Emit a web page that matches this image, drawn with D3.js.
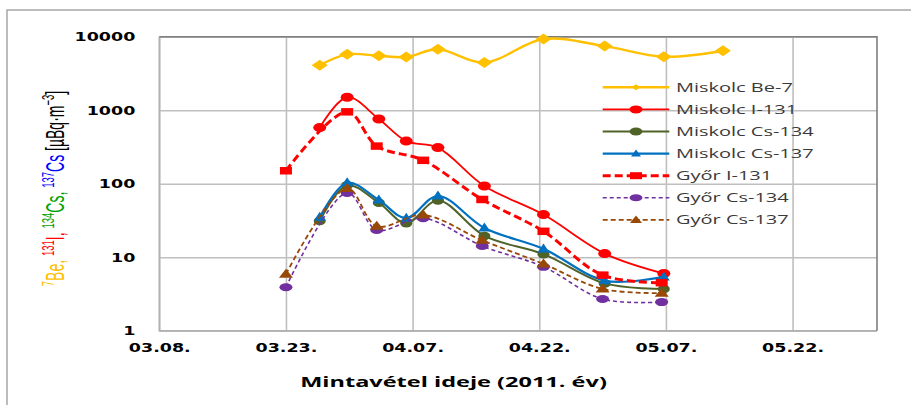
<!DOCTYPE html>
<html>
<head>
<meta charset="utf-8">
<script src="https://cdn.jsdelivr.net/npm/d3@7"></script>
<style>
  body { margin: 0; background: #fff; }
  svg { display: block; }
</style>
</head>
<body>
<svg id="chart" width="911" height="405"></svg>
<script>
// Sampling dates (2011) of the two stations
const miskolcDates = ["2011-03-27T00:00", "2011-03-30T06:00", "2011-04-03T00:00", "2011-04-06T06:00",
  "2011-04-10T00:00", "2011-04-15T12:00", "2011-04-22T12:00", "2011-04-29T18:00",
  "2011-05-06T18:00", "2011-05-13T18:00"];
const gyorDates = ["2011-03-23T00:00", "2011-03-30T06:00", "2011-04-02T18:00", "2011-04-08T06:00",
  "2011-04-15T06:00", "2011-04-22T12:00", "2011-04-29T12:00", "2011-05-06T12:00"];

// Activity concentrations, µBq/m³
const miskolcBe7   = [4100, 5750, 5500, 5300, 6750, 4450, 9300, 7450, 5350, 6450];
const miskolcI131  = [580, 1500, 760, 380, 310, 93, 38, 11.2, 6.0];
const miskolcCs134 = [31, 95, 55, 29, 59, 19.5, 11, 4.4, 3.7];
const miskolcCs137 = [35, 103, 60, 34, 68, 25, 13, 4.8, 5.4];
const gyorI131     = [150, 950, 325, 208, 61, 22.5, 5.7, 4.5];
const gyorCs134    = [3.9, 75, 23.5, 34, 14.2, 7.4, 2.7, 2.45];
const gyorCs137    = [5.9, 86, 26.5, 37.5, 17, 8.1, 3.7, 3.25];

const seriesNames = ["Miskolc Be-7", "Miskolc I-131", "Miskolc Cs-134", "Miskolc Cs-137",
  "Győr I-131", "Győr Cs-134", "Győr Cs-137"];

// Axis ticks
const xTickDates = ["2011-03-08", "2011-03-23", "2011-04-07", "2011-04-22", "2011-05-07", "2011-05-22"];
const xDomain = ["2011-03-08", "2011-06-01"];
const yTicks = [1, 10, 100, 1000, 10000];

const xTitle = "Mintavétel ideje (2011. év)";
// Y title pieces: [superscript, body, colour]
const yTitleParts = [
  ["7", "Be, ", "#FFC000"],
  ["131", "I, ", "#FF0000"],
  ["134", "Cs, ", "#00A000"],
  ["137", "Cs ", "#0000FF"],
  ["", "[µBq·m", "#000"],
  ["−3", "]", "#000"]
];

const parse = d3.isoParse;

// Styles per series
const styles = [
  { color: "#FFC000", width: 2.4, dash: null, marker: "diamond", size: [16, 11], lsize: [9, 6] },
  { color: "#FF0000", width: 1.8, dash: null, marker: "circle", size: [13, 9], lsize: [13, 8] },
  { color: "#4F6228", width: 2.0, dash: null, marker: "circle", size: [12, 8.5], lsize: [13, 8] },
  { color: "#0070C0", width: 2.2, dash: null, marker: "triangle", size: [12, 9], lsize: [10, 7] },
  { color: "#FF0000", width: 3.0, dash: "8,4", marker: "square", size: [12, 7.5], lsize: [12, 7] },
  { color: "#7030A0", width: 1.6, dash: "4,3", marker: "circle", size: [13, 8], lsize: [13, 7] },
  { color: "#984807", width: 1.8, dash: "5,3", marker: "triangle", size: [14, 9], lsize: [12, 7.5] }
];

const seriesData = [
  [miskolcDates, miskolcBe7],
  [miskolcDates, miskolcI131],
  [miskolcDates, miskolcCs134],
  [miskolcDates, miskolcCs137],
  [gyorDates, gyorI131],
  [gyorDates, gyorCs134],
  [gyorDates, gyorCs137]
].map(([dates, vals], i) => ({
  name: seriesNames[i],
  style: styles[i],
  points: vals.map((v, j) => ({ date: parse(dates[j]), value: v }))
}));

const svg = d3.select("#chart");
const plot = { left: 159.3, right: 877, top: 36.7, bottom: 330.7 };

const x = d3.scaleTime().domain(xDomain.map(parse)).range([plot.left, plot.right]);
const y = d3.scaleLog().domain([1, 10000]).range([plot.bottom, plot.top]);

// Outer frame (top and left edges)
svg.append("path")
  .attr("d", "M7,405 L7,10 L911,10")
  .attr("fill", "none").attr("stroke", "#a6a6a6").attr("stroke-width", 1.5);

const tickFont = "'DejaVu Sans', Verdana, sans-serif";
const TICK_STRETCH = 1.4;

// X axis with vertical gridlines
const xAxis = svg.append("g")
  .attr("transform", `translate(0,${plot.bottom})`)
  .call(d3.axisBottom(x)
    .tickValues(xTickDates.map(parse))
    .tickFormat(d3.timeFormat("%m.%d."))
    .tickSize(-(plot.bottom - plot.top))
    .tickSizeOuter(0));
xAxis.select(".domain").remove();
xAxis.selectAll(".tick line").attr("stroke", "#bfbfbf").attr("stroke-width", 1.6);
xAxis.selectAll(".tick text")
  .attr("y", 21).attr("dy", null)
  .attr("transform", `scale(${TICK_STRETCH},1)`)
  .attr("fill", "#000").attr("font-family", tickFont)
  .attr("font-weight", "bold").attr("font-size", 12.5);

// Y axis with horizontal gridlines
const yAxis = svg.append("g")
  .attr("transform", `translate(${plot.left},0)`)
  .call(d3.axisLeft(y)
    .tickValues(yTicks)
    .tickFormat(d3.format("d"))
    .tickSize(-(plot.right - plot.left))
    .tickSizeOuter(0));
yAxis.select(".domain").remove();
yAxis.selectAll(".tick line").attr("stroke", "#bfbfbf").attr("stroke-width", 1.6);
yAxis.selectAll(".tick text")
  .attr("x", -24 / TICK_STRETCH)
  .attr("transform", `scale(${TICK_STRETCH},1)`)
  .attr("fill", "#000").attr("font-family", tickFont)
  .attr("font-weight", "bold").attr("font-size", 12.5);

// Plot area border
svg.append("path")
  .attr("d", `M${plot.left},${plot.top} L${plot.left},${plot.bottom} L${plot.right},${plot.bottom}`)
  .attr("fill", "none").attr("stroke", "#b0b0b0").attr("stroke-width", 1.6);
svg.append("path")
  .attr("d", `M${plot.left},${plot.top} L${plot.right},${plot.top} L${plot.right},${plot.bottom}`)
  .attr("fill", "none").attr("stroke", "#7f7f7f").attr("stroke-width", 1.6);

// Marker drawing
function markerPath(type, w, h) {
  if (type === "diamond") return `M0,${-h / 2} L${w / 2},0 L0,${h / 2} L${-w / 2},0 Z`;
  if (type === "triangle") return `M0,${-h * 0.6} L${w / 2},${h * 0.4} L${-w / 2},${h * 0.4} Z`;
  if (type === "square") return `M${-w / 2},${-h / 2} h${w} v${h} h${-w} Z`;
  // ellipse as path
  return `M${-w / 2},0 a${w / 2},${h / 2} 0 1,0 ${w},0 a${w / 2},${h / 2} 0 1,0 ${-w},0 Z`;
}

const line = d3.line()
  .x(d => x(d.date))
  .y(d => y(d.value))
  .curve(d3.curveCatmullRom.alpha(0.5));

const seriesG = svg.append("g").selectAll("g")
  .data(seriesData).join("g");

seriesG.append("path")
  .attr("d", d => line(d.points))
  .attr("fill", "none")
  .attr("stroke", d => d.style.color)
  .attr("stroke-width", d => d.style.width)
  .attr("stroke-dasharray", d => d.style.dash);

seriesG.each(function (s) {
  d3.select(this).selectAll(".mk")
    .data(s.points).join("path")
    .attr("class", "mk")
    .attr("transform", d => `translate(${x(d.date)},${y(d.value)})`)
    .attr("d", markerPath(s.style.marker, s.style.size[0], s.style.size[1]))
    .attr("fill", s.style.color);
});

// Legend
const legendFont = "'Open Sans', 'Liberation Sans', sans-serif";
const legend = svg.append("g");
seriesData.forEach((s, i) => {
  const cy = 87.3 + i * 22.1;
  const g = legend.append("g").attr("transform", `translate(0,${cy})`);
  g.append("line")
    .attr("x1", 602.7).attr("x2", 669.3)
    .attr("stroke", s.style.color)
    .attr("stroke-width", s.style.width)
    .attr("stroke-dasharray", s.style.dash);
  g.append("path")
    .attr("transform", "translate(636,0)")
    .attr("d", markerPath(s.style.marker, s.style.lsize[0], s.style.lsize[1]))
    .attr("fill", s.style.color);
  g.append("g").attr("transform", "translate(676,4.5) scale(1.6,1)")
    .append("text")
    .attr("font-family", legendFont).attr("font-size", 12.5)
    .attr("fill", "#3a3a3a")
    .text(s.name);
});

// X axis title
svg.append("g").attr("transform", "translate(453.5,386.7) scale(1.68,1)")
  .append("text")
  .attr("text-anchor", "middle")
  .attr("font-family", "'Open Sans', sans-serif")
  .attr("font-weight", "bold").attr("font-size", 14)
  .attr("fill", "#000")
  .text(xTitle);

// Y axis title, rotated, coloured nuclide names with mass-number superscripts
const yt = svg.append("g").attr("transform", "translate(64,188.5) scale(1.8,1) rotate(-90)")
  .append("text")
  .attr("text-anchor", "middle")
  .attr("font-family", "'Liberation Sans', Arial, sans-serif")
  .attr("font-size", 14);
yTitleParts.forEach(([sup, body, color]) => {
  if (sup) {
    yt.append("tspan").attr("font-size", 9.5).attr("dy", -5.5).attr("fill", color).text(sup);
    yt.append("tspan").attr("dy", 5.5).attr("fill", color).text(body);
  } else {
    yt.append("tspan").attr("fill", color).text(body);
  }
});
</script>
</body>
</html>
